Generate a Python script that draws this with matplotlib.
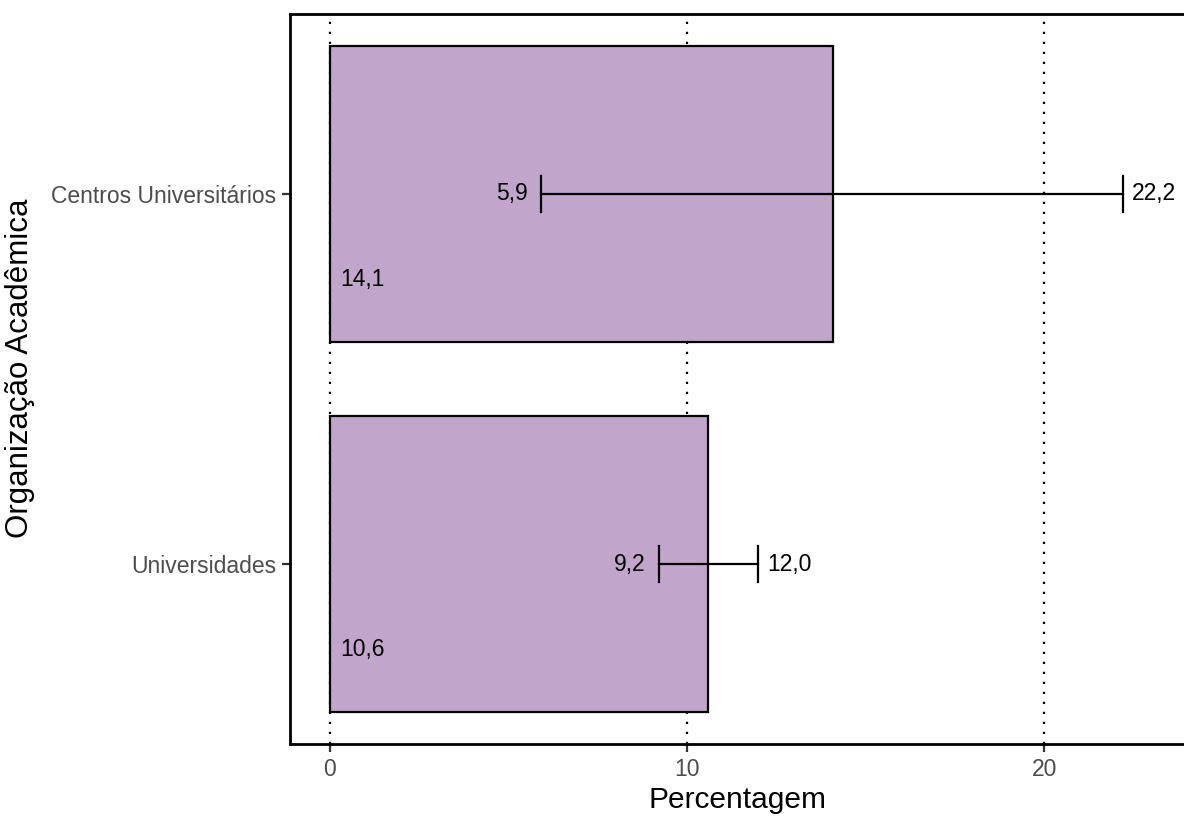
import matplotlib
matplotlib.use("Agg")
import matplotlib.pyplot as plt

categories = ["Universidades", "Centros Universitários"]
values = [10.6, 14.1]
lower = [9.2, 5.9]
upper = [12.0, 22.2]
xticks = [0, 10, 20]

def fmt(v):
    return f"{v:.1f}".replace(".", ",")

plt.rcParams['font.family'] = ['Liberation Sans', 'DejaVu Sans']

fig = plt.figure(figsize=(11.84, 8.16), dpi=100)
ax = fig.add_axes([290/1184, 1 - 744/816, 1 - 290/1184 + 0.001, (744 - 14)/816])

ypos = [1, 2]
ax.set_xlim(-1.12, 23.95)
ax.set_ylim(0.514, 2.486)

for x in xticks:
    ax.axvline(x, color='black', linestyle=(0, (1, 3.5)), linewidth=1.6, zorder=0)

ax.barh(ypos, values, height=0.8, color='#C2A5CB', edgecolor='black', linewidth=1.6, zorder=2)

fs = 16.5
for y, lo, hi, v in zip(ypos, lower, upper, values):
    ax.plot([lo, hi], [y, y], color='black', linewidth=1.6, zorder=3)
    ax.plot([lo, lo], [y - 0.048, y + 0.048], color='black', linewidth=1.6, zorder=3)
    ax.plot([hi, hi], [y - 0.048, y + 0.048], color='black', linewidth=1.6, zorder=3)
    ax.text(lo - 0.36, y, fmt(lo), ha='right', va='center', fontsize=fs, color='black', zorder=4)
    ax.text(hi + 0.25, y, fmt(hi), ha='left', va='center', fontsize=fs, color='black', zorder=4)
    ax.text(0.28, y - 0.23, fmt(v), ha='left', va='center', fontsize=fs, color='black', zorder=4)

ax.set_yticks(ypos)
ax.set_yticklabels(categories)
ax.set_xticks(xticks)
ax.set_xticklabels([str(t) for t in xticks])
ax.tick_params(axis='both', colors='#333333', labelcolor='#4D4D4D', labelsize=16.5,
               length=6, width=1.6, pad=4)

for side in ['left', 'bottom', 'top']:
    ax.spines[side].set_linewidth(2)
    ax.spines[side].set_color('black')
ax.spines['right'].set_visible(False)

ax.set_xlabel("Percentagem", fontsize=21.5, color='black')
ax.set_ylabel("Organização Acadêmica", fontsize=22.5, color='black')
ax.yaxis.set_label_coords(-(290 - 35) / (1184 - 290), 0.515)
ax.xaxis.label.set_va('baseline')
ax.xaxis.set_label_coords(0.5, -(808 - 744) / (744 - 14))

fig.savefig("out.png", dpi=100)
